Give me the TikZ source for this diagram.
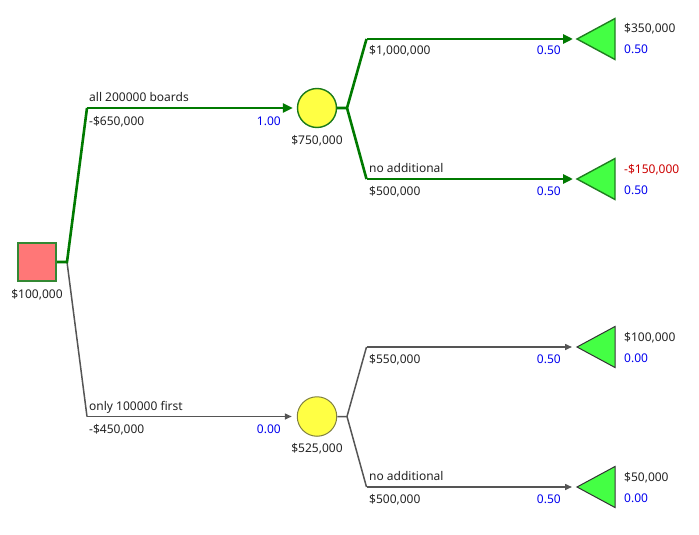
\documentclass[tikz,border=0pt]{standalone}
\usepackage{fontspec}
\setmainfont{Noto Sans}
\usetikzlibrary{arrows.meta}
\definecolor{optline}{HTML}{007A00}
\definecolor{subline}{HTML}{555555}
\definecolor{decfill}{HTML}{FF7777}
\definecolor{decedge}{HTML}{338833}
\definecolor{chfill}{HTML}{FFFF44}
\definecolor{chedgeA}{HTML}{1A7A1A}
\definecolor{chedgeB}{HTML}{808040}
\definecolor{endfill}{HTML}{44FF44}
\definecolor{endedgeA}{HTML}{1F7F1F}
\definecolor{endedgeB}{HTML}{333333}
\definecolor{probtext}{HTML}{0000EE}
\definecolor{losstext}{HTML}{CC0000}
\definecolor{bodytext}{HTML}{222222}
\tikzset{
  every node/.style={font=\fontsize{12}{14}\selectfont, text=bodytext, inner sep=0pt},
  decision/.style={draw=decedge, fill=decfill, line width=1.8pt, rectangle, minimum size=38.5pt},
  chanceA/.style={draw=chedgeA, fill=chfill, line width=1.4pt, circle, minimum size=39pt},
  chanceB/.style={draw=chedgeB, fill=chfill, line width=1pt, circle, minimum size=39.5pt},
  best/.style={draw=optline, line width=2.6pt, line join=miter},
  other/.style={draw=subline, line width=1.5pt, line join=miter},
  bestarrow/.style={best, -{Triangle[length=10pt,width=9pt]}, shorten >=4pt},
  otherarrow/.style={other, -{Triangle[length=7pt,width=6pt]}, shorten >=5pt},
  endA/.style={draw=endedgeA, fill=endfill, line width=1.4pt, line join=miter},
  endB/.style={draw=endedgeB, fill=endfill, line width=1pt, line join=miter},
  above label/.style={anchor=base west},
  prob/.style={anchor=base east, text=probtext},
  value/.style={anchor=base},
  payoff/.style={anchor=base west},
}
\begin{document}
\begin{tikzpicture}[x=1pt, y=-1pt]
\useasboundingbox (0,0) rectangle (699,535);

% decision and chance nodes
\node[decision] (d) at (37,262) {};
\node[chanceA] (c1) at (317,108) {};
\node[chanceB] (c2) at (317,416.5) {};

% bends of the branches
\coordinate (dj) at (67,262);
\coordinate (k1) at (87,108);
\coordinate (k2) at (87,416.5);
\coordinate (c1j) at (347,108);
\coordinate (c2j) at (347,416.5);
\coordinate (k11) at (366.5,39);
\coordinate (k12) at (366.5,179);
\coordinate (k21) at (366.5,347);
\coordinate (k22) at (366.5,487);

% end nodes: tips of the payoff triangles
\coordinate (t1) at (577,39);
\coordinate (t2) at (577,179);
\coordinate (t3) at (577,347);
\coordinate (t4) at (577,487);

% payoff triangles
\path[endA] (t1) -- ++(38,-20.5) -- ++(0,41) -- cycle;
\path[endA] (t2) -- ++(38,-20.5) -- ++(0,41) -- cycle;
\path[endB] (t3) -- ++(38,-20.5) -- ++(0,41) -- cycle;
\path[endB] (t4) -- ++(38,-20.5) -- ++(0,41) -- cycle;

% branches of the decision
\draw[other] (d) -- (dj) -- (k2);
\draw[otherarrow] (k2) -- (c2);
\draw[best] (d) -- (dj) -- (k1);
\draw[bestarrow] (k1) -- (c1);

% branches of the upper chance node
\draw[best] (c1) -- (c1j) -- (k11);
\draw[best] (c1j) -- (k12);
\draw[bestarrow] (k11) -- (t1);
\draw[bestarrow] (k12) -- (t2);

% branches of the lower chance node
\draw[other] (c2) -- (c2j) -- (k21);
\draw[other] (c2j) -- (k22);
\draw[otherarrow] (k21) -- (t3);
\draw[otherarrow] (k22) -- (t4);

% node values
\node[value] (vd) at (37,298) {\$100,000};
\node[value] (vc1) at (317,144) {\$750,000};
\node[value] (vc2) at (317,452.5) {\$525,000};

% decision branch labels
\node[above label] (n1) at (89,101.5) {all 200000 boards};
\node[above label] (p1) at (89,125) {-\$650,000};
\node[prob] (q1) at (281,125) {1.00};
\node[above label] (n2) at (89,410) {only 100000 first};
\node[above label] (p2) at (89,433.5) {-\$450,000};
\node[prob] (q2) at (281,433.5) {0.00};

% upper chance branch labels
\node[above label] (p11) at (369,55) {\$1,000,000};
\node[prob] (q11) at (561,55) {0.50};
\node[above label] (n12) at (369,172.5) {no additional};
\node[above label] (p12) at (369,195) {\$500,000};
\node[prob] (q12) at (561,195) {0.50};

% lower chance branch labels
\node[above label] (p21) at (369,363) {\$550,000};
\node[prob] (q21) at (561,363) {0.50};
\node[above label] (n22) at (369,480.5) {no additional};
\node[above label] (p22) at (369,503) {\$500,000};
\node[prob] (q22) at (561,503) {0.50};

% payoffs and path probabilities
\node[payoff] (r1) at (624,33) {\$350,000};
\node[payoff, text=probtext] (s1) at (624,54) {0.50};
\node[payoff, text=losstext] (r2) at (624,173) {-\$150,000};
\node[payoff, text=probtext] (s2) at (624,194) {0.50};
\node[payoff] (r3) at (624,341) {\$100,000};
\node[payoff, text=probtext] (s3) at (624,362) {0.00};
\node[payoff] (r4) at (624,481) {\$50,000};
\node[payoff, text=probtext] (s4) at (624,502) {0.00};
\end{tikzpicture}
\end{document}
